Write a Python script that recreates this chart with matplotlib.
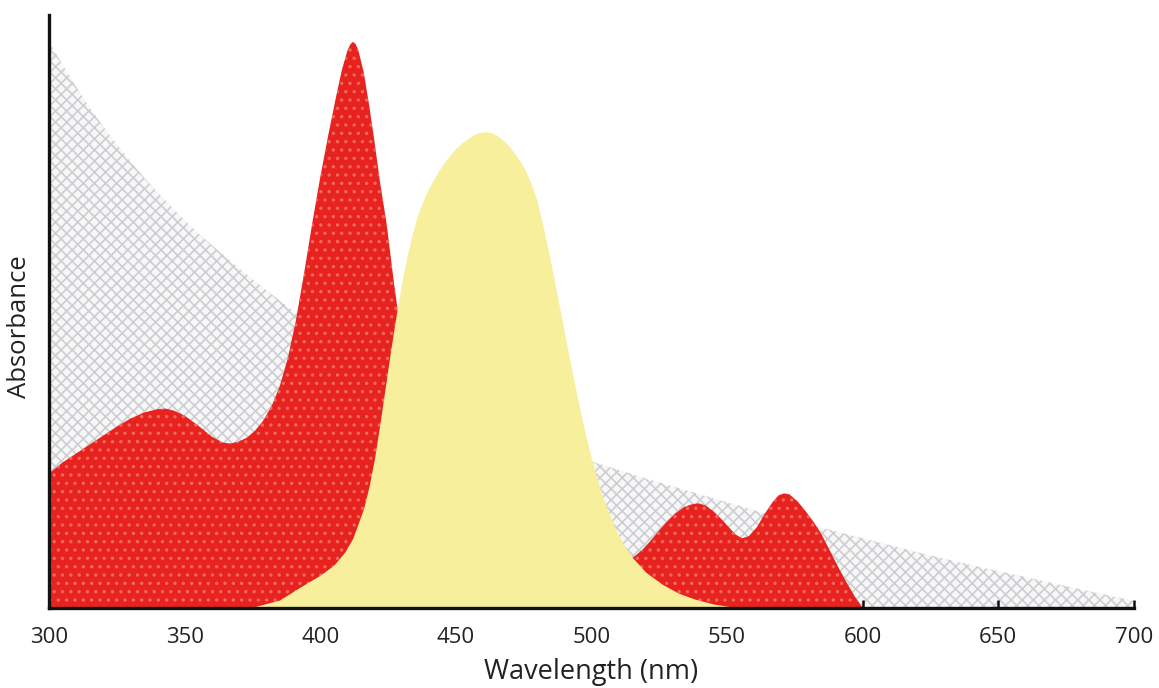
import matplotlib
matplotlib.use('Agg')
import matplotlib.pyplot as plt

# ==================== DATA (absorbance, arbitrary units) ====================
bg_nm = [300, 305, 310, 315, 320, 325, 330, 335, 340, 345, 350, 355, 360, 370, 380,
         390, 400, 420, 440, 460, 480, 500, 520, 540, 560, 580, 600, 620, 640, 660,
         680, 700]
bg_abs = [568, 545, 523, 502, 483, 465, 448, 432, 417, 403, 389, 376, 364, 341, 319,
          298, 279, 246, 216, 190, 167, 147, 130, 114, 98, 84, 70, 56, 43, 31,
          19, 7]

red_nm = [300, 305, 310, 315, 320, 325, 330, 335, 340, 343, 346, 350, 355, 360, 364,
          367, 370, 373, 376, 379, 382, 385, 388, 391, 394, 397, 400, 403, 406, 408,
          410, 411, 412, 413, 414, 416, 418, 420, 422, 424.5, 427, 430, 433, 436, 440,
          445, 450, 460, 470, 480, 490, 500, 507, 512, 516, 519, 522, 525, 528, 531,
          534, 537, 539.5, 542, 545, 548, 551, 553, 555.5, 558, 561, 564, 567, 569, 571,
          573, 576, 579, 582, 585, 588, 591, 594, 597, 600]
red_abs = [135, 146, 155, 164, 173, 182, 190, 196, 199.5, 200, 198, 193, 183, 172, 166,
           165, 167, 171, 178, 188, 202, 222, 250, 288, 335, 385, 432, 475, 515, 540,
           559, 565, 568, 566, 560, 538, 505, 468, 428, 385, 330, 270, 222, 185, 148,
           115, 92, 63, 48, 39, 34, 33, 38, 45, 52, 59, 68, 78, 87, 95,
           101, 104, 105, 103, 97, 89, 80, 74, 70, 72, 81, 95, 107, 113, 115,
           114, 107, 97, 86, 73, 57, 41, 26, 12, 0]

yel_nm = [355, 365, 376, 385, 392, 400, 405, 409, 412, 414, 416, 418, 420, 422, 424,
          426, 428, 430, 432, 434, 436, 438, 440, 442, 444, 446, 448, 450, 452, 454,
          456, 458, 461, 463, 465, 468, 470, 472, 474, 476, 478, 480, 482, 484, 486,
          488, 490, 492, 494, 496, 498, 500, 502, 504, 506, 508, 510, 512, 515, 520,
          526, 532, 538, 545, 552, 558]
yel_abs = [0, 0.5, 1.5, 8, 20, 33, 43, 56, 70, 85, 100, 122, 150, 185, 222,
           259, 294, 326, 353, 376, 395, 409, 421, 431, 440, 448, 455, 461, 466, 470,
           474, 476.5, 478, 477, 474.5, 468, 462, 455, 447, 437, 424, 408, 385, 360, 333,
           305, 277, 249, 222, 196, 172, 150, 130, 113, 98, 85, 73, 63, 51, 36,
           24, 15, 9, 4, 1, 0]

xticks = [300, 350, 400, 450, 500, 550, 600, 650, 700]

# ==================== PLOT ====================
plt.rcParams['font.family'] = ['Open Sans', 'DejaVu Sans']
plt.rcParams['hatch.linewidth'] = 1.2

fig = plt.figure(figsize=(11.59, 6.88), dpi=100)
ax = fig.add_axes([0.0423, 0.1163, 0.936, 0.862])

ax.fill_between(bg_nm, 0, bg_abs, facecolor='#f7f7f8', edgecolor='#cdced2',
                hatch='xxx', linewidth=0, zorder=1)
ax.fill_between(red_nm, 0, red_abs, facecolor='#e7221f', edgecolor='#f26a5e',
                hatch='..', linewidth=0, zorder=2)
ax.fill_between(yel_nm, 0, yel_abs, facecolor='#f8ef9c', edgecolor='#f8ef9c',
                linewidth=0, zorder=3)

ax.set_xlim(300, 700)
ax.set_ylim(0, 595)
ax.set_xticks(xticks)
ax.set_yticks([])
ax.tick_params(axis='x', direction='in', length=6, width=1.8, color='#111111',
               labelsize=16, pad=14, labelcolor='#222222')

for side in ['top', 'right']:
    ax.spines[side].set_visible(False)
for side in ['left', 'bottom']:
    ax.spines[side].set_linewidth(2.4)
    ax.spines[side].set_color('#111111')
    ax.spines[side].set_zorder(5)

ax.set_xlabel('Wavelength (nm)', fontsize=19.5, color='#222222', labelpad=7)
ax.set_ylabel('Absorbance', fontsize=18.5, color='#222222')
ax.yaxis.set_label_coords(-0.016, 0.474)

fig.savefig('out.png', dpi=100)
plt.close(fig)
